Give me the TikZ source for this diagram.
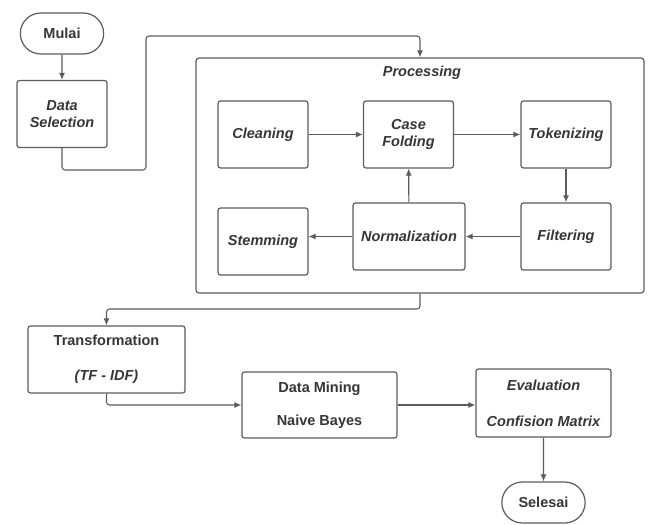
\documentclass[tikz,border=0pt]{standalone}
\usepackage{fontspec}
\setmainfont{Liberation Sans}
\usepackage{tikz}
\usetikzlibrary{shapes, arrows.meta, positioning}
\definecolor{linegray}{HTML}{5C5C5C}
\definecolor{textgray}{HTML}{363636}
\newcommand{\flowfont}{\fontsize{14.5}{17}\selectfont}
\tikzstyle{block} = [draw=linegray, fill=white, rectangle, rounded corners=2.5pt, line width=1.2pt, minimum width=90pt, minimum height=67pt, align=center, text=textgray, font=\flowfont\bfseries\itshape]
\tikzstyle{term} = [draw=linegray, fill=white, rounded rectangle, line width=1.2pt, minimum width=90pt, minimum height=41pt, text=textgray, font=\flowfont\bfseries]
\tikzstyle{group} = [draw=linegray, rectangle, rounded corners=3pt, line width=1.2pt, minimum width=448pt, minimum height=235pt]
\tikzstyle{conn} = [draw=linegray, line width=1.1pt, rounded corners=3pt, ->]

\begin{document}
\begin{tikzpicture}[x=1pt, y=-1pt, >={Latex[length=7pt,width=6pt]}]
    \useasboundingbox (0,0) rectangle (649,525);
    \node[term] (mulai) at (62,33.5) {Mulai};
    \node[block, below of=mulai, node distance=80.5pt] (ds) {Data\\Selection};
    \node[group] (proc) at (420,175.5) {};
    \node[text=textgray, font=\flowfont\bfseries\itshape] (ptitle) at (422,73) {Processing};
    \node[block] (clean) at (263,134.5) {Cleaning};
    \node[block, right of=clean, node distance=145.5pt] (fold) {Case\\Folding};
    \node[block, right of=fold, node distance=157.5pt] (token) {Tokenizing};
    \node[block, below of=token, node distance=102pt] (filter) {Filtering};
    \node[block, left of=filter, node distance=157pt, minimum width=112pt] (norm) {Normalization};
    \node[block, left of=norm, node distance=146pt, yshift=-5pt] (stem) {Stemming};
    \node[block, font=\flowfont\bfseries, minimum width=157pt] (trans) at (106.5,359.5) {Transformation\\[18pt]\textit{(TF - IDF)}};
    \node[block, font=\flowfont\bfseries, minimum width=155pt, minimum height=66pt] (mining) at (319.5,405) {Data Mining\\[16pt]Naive Bayes};
    \node[block, minimum width=135pt, minimum height=68pt] (eval) at (543.5,403) {Evaluation\\[19pt]Confision Matrix};
    \node[term, below of=eval, node distance=99.5pt] (selesai) {Selesai};
    \coordinate (turn1) at (146,170);
    \coordinate (turn2) at (146,36);
    \coordinate (turn3) at (420,309);
    \draw[conn] (mulai) -- (ds);
    \draw[conn] (ds.south) |- (turn1) -- (turn2) -| (proc.north);
    \draw[conn] (clean) -- (fold);
    \draw[conn] (fold) -- (token);
    \draw[conn] (token) -- (filter);
    \draw[conn] (filter) -- (norm);
    \draw[conn] (norm) -- (fold);
    \draw[conn] (norm.west) -- (norm.west -| stem.east);
    \draw[conn] (proc.south) -- (turn3) -| (trans.north);
    \draw[conn] (trans.south) |- (mining.west);
    \draw[conn] (mining.east) -- (mining.east -| eval.west);
    \draw[conn] (eval) -- (selesai);
\end{tikzpicture}
\end{document}
